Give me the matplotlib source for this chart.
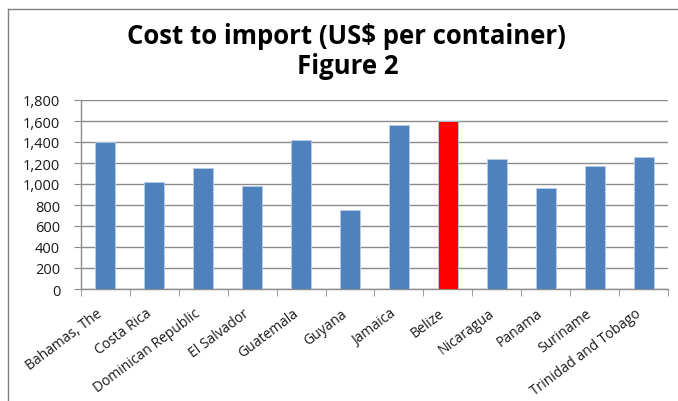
import matplotlib
matplotlib.use("Agg")
import matplotlib.pyplot as plt
import numpy as np
from matplotlib.lines import Line2D

countries = ['Bahamas, The', 'Costa Rica', 'Dominican Republic', 'El Salvador',
             'Guatemala', 'Guyana', 'Jamaica', 'Belize', 'Nicaragua', 'Panama',
             'Suriname', 'Trinidad and Tobago']
cost = [1400, 1015, 1150, 980, 1420, 750, 1560, 1600, 1240, 960, 1170, 1260]
highlight = 'Belize'
yticks = [0, 200, 400, 600, 800, 1000, 1200, 1400, 1600, 1800]

blue = '#4F81BD'
red = '#FF0000'
grid_col = '#8c8c8c'
font = 'Open Sans'

fig = plt.figure(figsize=(6.78, 4.02), dpi=100)
ax = fig.add_axes([81/678, 1-290/402, (668-81)/678, (290-101)/402])

x = np.arange(len(countries))
colors = [red if c == highlight else blue for c in countries]
ax.bar(x, cost, width=0.41, color=colors, edgecolor='#b9cde5', linewidth=0.6, zorder=3)

ax.set_xlim(-0.5, len(countries)-0.5)
ax.set_ylim(0, 1800)
ax.set_yticks(yticks)
ax.set_yticklabels(['{:,}'.format(v) for v in yticks], family=font, fontsize=10.5, color='#1a1a1a')
ax.yaxis.grid(True, color=grid_col, linewidth=1.0, zorder=0)

# category labels centered, ticks on boundaries
ax.set_xticks(x)
ax.set_xticklabels(countries, rotation=37, ha='right', family=font, fontsize=10, color='#1a1a1a')
ax.tick_params(axis='x', which='major', length=0, pad=12)
ax.set_xticks(np.arange(-0.5, len(countries)), minor=True)
ax.tick_params(axis='x', which='minor', length=5, color=grid_col, direction='out')
ax.tick_params(axis='y', length=5, color=grid_col, direction='out', pad=10)

for s in ['top', 'right']:
    ax.spines[s].set_visible(False)
for s in ['left', 'bottom']:
    ax.spines[s].set_color(grid_col)
    ax.spines[s].set_linewidth(1.0)

fig.text(346/678, 1-37/402, 'Cost to import (US$ per container)', ha='center', va='center',
         family=font, fontweight='bold', fontsize=18.5)
fig.text(348/678, 1-67/402, 'Figure 2', ha='center', va='center',
         family=font, fontweight='bold', fontsize=18.5)

# chart frame (only left and top edges visible)
fig.add_artist(Line2D([8/678, 8/678], [0, 1-10/402], transform=fig.transFigure, color='#7f7f7f', linewidth=1))
fig.add_artist(Line2D([8/678, 1], [1-10/402, 1-10/402], transform=fig.transFigure, color='#7f7f7f', linewidth=1))

fig.savefig('out.png', dpi=100, facecolor='white')
